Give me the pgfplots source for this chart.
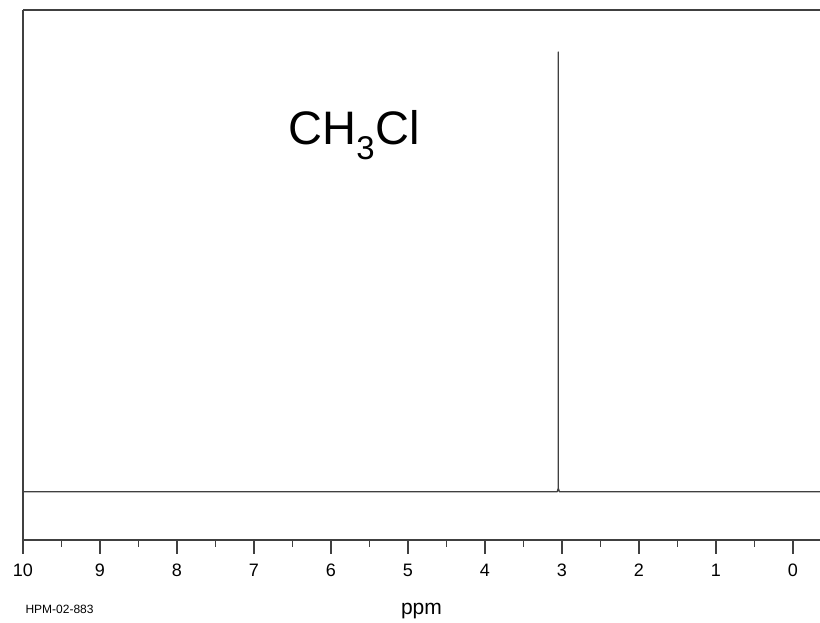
\documentclass[border=0pt]{standalone}
\usepackage{pgfplots}
\pgfplotsset{compat=1.18}
\usepackage{fontspec}
\setmainfont{Liberation Sans}
\definecolor{ln}{HTML}{404040}
\begin{document}
\begin{tikzpicture}
\path[use as bounding box] (-23pt,-83pt) rectangle (797pt,540pt);
\begin{axis}[
  at={(0,0)}, anchor=south west,
  scale only axis, width=797pt, height=530pt,
  x dir=reverse, xmin=-0.3506, xmax=10,
  ymin=-10.98, ymax=109.55,
  axis x line=bottom, axis y line=left,
  axis line style={-, ln, line width=1.3pt},
  ytick=\empty,
  xtick={0,1,...,10},
  minor x tick num=1,
  tick align=outside,
  major tick length=14pt, minor tick length=7pt,
  every tick/.style={ln, line width=1.2pt},
  /pgf/number format/assume math mode=true,
  xticklabel style={font=\fontsize{18}{20}\selectfont, text=black, text height=13pt, text depth=0pt, yshift=-6pt},
  xlabel={ppm},
  xlabel style={font=\fontsize{21}{24}\selectfont, yshift=-20pt},
  clip=false,
]
\addplot[ln, line width=1.3pt, line join=round] coordinates {
  (10,0) (3.062,0) (3.048,0.8) (3.048,100) (3.048,0.8) (3.034,0) (-0.3506,0)
};
\draw[ln, line width=1.3pt] (rel axis cs:0,1) -- (rel axis cs:1,1);
\node[anchor=base, font=\fontsize{47}{50}\selectfont] at (axis cs:5.70,0) [yshift=347pt] {CH\textsubscript{3}Cl};
\node[anchor=base west, font=\fontsize{12}{14}\selectfont] at (rel axis cs:0,0) [xshift=-1pt, yshift=-74pt] {HPM-02-883};
\end{axis}
\end{tikzpicture}
\end{document}
